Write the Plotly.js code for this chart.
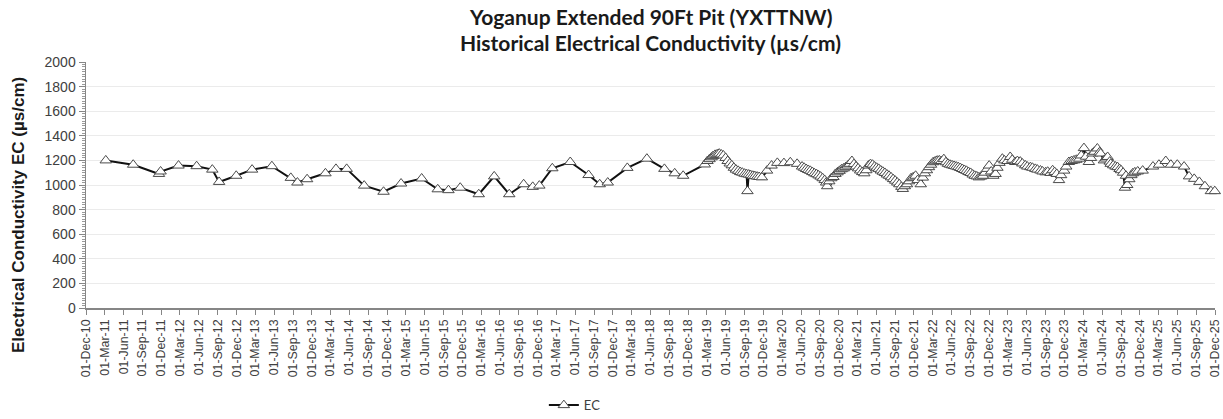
<!DOCTYPE html>
<html>
<head>
<meta charset="utf-8">
<script src="https://cdn.plot.ly/plotly-3.0.1.min.js"></script>
<style>html,body{margin:0;padding:0;background:#fff;}#chart{width:1223px;height:419px;}</style>
</head>
<body>
<div id="chart"></div>
<script>
// Sampling dates
const dates = [
'2011-03-07','2011-07-18','2011-11-20','2011-11-28','2012-02-23','2012-05-21','2012-08-05','2012-09-07','2012-11-29',
'2013-02-14','2013-05-21','2013-08-21','2013-09-22','2013-11-08','2014-02-05','2014-03-28','2014-05-19','2014-08-12',
'2014-11-14','2015-02-07','2015-05-18','2015-08-04','2015-09-25','2015-11-21','2016-02-19','2016-05-04','2016-07-16',
'2016-09-24','2016-11-07','2016-12-09','2017-02-10','2017-05-08','2017-08-05','2017-09-28','2017-11-06','2018-02-09',
'2018-05-15','2018-08-08','2018-09-27','2018-11-07','2019-02-20',
'2019-03-05','2019-03-15','2019-03-25','2019-04-01','2019-04-11','2019-04-21','2019-05-01','2019-05-11','2019-05-21',
'2019-06-01','2019-06-11','2019-06-21','2019-07-01','2019-07-11','2019-07-21','2019-08-01','2019-08-11','2019-08-21',
'2019-09-01','2019-09-11','2019-09-15','2019-09-21','2019-10-01','2019-10-11','2019-10-21','2019-11-01','2019-11-11',
'2019-11-24','2019-12-19','2020-01-10','2020-02-07','2020-03-10','2020-04-10','2020-05-13','2020-06-06',
'2020-06-16','2020-06-26','2020-07-06','2020-07-16','2020-07-26','2020-08-05','2020-08-15','2020-08-25','2020-09-04',
'2020-09-14','2020-09-24','2020-10-01','2020-10-06','2020-10-16','2020-10-26','2020-11-05','2020-11-15','2020-11-25',
'2020-12-05','2020-12-15','2020-12-25','2021-01-04','2021-01-14','2021-01-24','2021-02-03','2021-02-13','2021-02-23',
'2021-03-05','2021-03-15','2021-03-25','2021-04-04','2021-04-14','2021-04-24','2021-05-04','2021-05-14','2021-05-24',
'2021-06-03','2021-06-13','2021-06-23','2021-07-03','2021-07-13','2021-07-23','2021-08-02','2021-08-12','2021-08-22',
'2021-09-01','2021-09-11','2021-09-21','2021-10-01','2021-10-08','2021-10-18','2021-10-28','2021-11-07','2021-11-17',
'2021-11-27','2021-12-09','2021-12-19','2022-01-03','2022-01-13','2022-01-23','2022-02-02','2022-02-12','2022-02-22',
'2022-03-04','2022-03-14','2022-03-24','2022-04-03','2022-04-13','2022-04-25','2022-05-05','2022-05-15','2022-05-25',
'2022-06-04','2022-06-14','2022-06-24','2022-07-04','2022-07-14','2022-07-24','2022-08-03','2022-08-13','2022-08-23',
'2022-09-02','2022-09-12','2022-09-22','2022-10-02','2022-10-12','2022-10-22','2022-11-01','2022-11-11','2022-11-21',
'2022-12-01','2022-12-11','2022-12-21','2023-01-01','2023-01-10','2023-01-20','2023-02-03','2023-02-13','2023-02-28',
'2023-03-13','2023-03-23','2023-04-07','2023-04-17','2023-05-01','2023-05-11','2023-05-25','2023-06-04','2023-06-19',
'2023-06-29','2023-07-13','2023-07-23','2023-08-07','2023-08-17','2023-09-01','2023-09-11','2023-09-25','2023-10-05',
'2023-10-15','2023-10-25','2023-11-05','2023-11-15','2023-11-30','2023-12-10','2023-12-23','2024-01-05','2024-01-17',
'2024-01-28','2024-02-11','2024-02-21','2024-03-05','2024-03-15','2024-03-29','2024-04-08','2024-04-15','2024-04-25',
'2024-05-09','2024-05-19','2024-05-25','2024-06-10','2024-06-20','2024-06-28','2024-07-08','2024-07-13','2024-07-25',
'2024-08-05','2024-08-15','2024-08-25','2024-09-01','2024-09-11','2024-09-20','2024-09-25','2024-10-01','2024-10-11',
'2024-10-21','2024-10-28','2024-11-07','2024-11-21','2024-12-15','2025-02-03','2025-03-04','2025-04-06','2025-05-01',
'2025-06-01','2025-07-04','2025-07-28','2025-08-22','2025-09-16','2025-10-13','2025-11-11','2025-11-30'
];
// Electrical conductivity values (µs/cm)
const ecValues = [
1200,1165,1090,1110,1158,1153,1125,1025,1075,
1125,1153,1058,1020,1047,1095,1131,1131,995,
945,1012,1053,965,958,978,925,1070,925,
1006,985,995,1136,1187,1081,1006,1020,1139,
1214,1131,1095,1075,1167,
1195,1210,1225,1235,1245,1250,1255,1248,1240,
1220,1195,1175,1160,1140,1125,1115,1105,1100,
1092,1088,950,1085,1080,1075,1072,1068,1065,
1062,1117,1158,1180,1178,1185,1172,1150,
1140,1130,1122,1115,1105,1095,1088,1078,1068,
1055,1040,1020,990,1030,1055,1065,1090,1103,
1115,1128,1135,1145,1158,1172,1195,1170,1150,
1135,1118,1105,1095,1120,1158,1170,1165,1150,
1140,1131,1118,1108,1098,1085,1075,1062,1048,
1035,1020,1006,985,968,990,1006,1030,1055,
1062,1075,1040,1006,1060,1095,1120,1145,1165,
1185,1192,1198,1200,1195,1210,1185,1172,1165,
1160,1155,1150,1145,1138,1130,1122,1115,1105,
1098,1085,1075,1070,1062,1068,1075,1100,1131,
1158,1110,1075,1090,1140,1180,1214,1200,1195,
1228,1205,1187,1195,1190,1175,1160,1150,1145,
1140,1131,1125,1118,1110,1103,1108,1098,1120,
1105,1090,1040,1080,1117,1150,1187,1195,1200,
1205,1214,1240,1300,1230,1187,1220,1256,1270,
1297,1265,1256,1200,1215,1228,1190,1172,1160,
1150,1145,1130,1120,1100,978,1075,1000,1047,
1080,1095,1103,1110,1117,1150,1165,1195,1165,
1165,1150,1070,1050,1025,990,950,950
];
const seriesName = 'EC';
const yTicks = [0,200,400,600,800,1000,1200,1400,1600,1800,2000];
const titleLines = ['Yoganup Extended 90Ft Pit (YXTTNW)', 'Historical Electrical Conductivity (µs/cm)'];
const yTitle = 'Electrical Conductivity EC (µs/cm)';

const trace = {
  x: dates, y: ecValues, name: seriesName, type: 'scatter', mode: 'lines+markers',
  line: {color: '#111111', width: 2},
  marker: {symbol: 'triangle-up', size: 10, color: '#ffffff', line: {color: '#4a4a4a', width: 1}},
  cliponaxis: false
};

const titleFont = {family: 'Lato, Carlito, sans-serif', size: 21, color: '#1a1a1a'};

const layout = {
  width: 1223, height: 419,
  margin: {l: 86, r: 8, t: 62, b: 111, pad: 0},
  paper_bgcolor: '#ffffff', plot_bgcolor: '#ffffff',
  font: {family: 'Liberation Sans, Arial, sans-serif', color: '#404040'},
  xaxis: {
    type: 'date', range: ['2010-12-01', '2025-12-01'],
    tick0: '2010-12-01', dtick: 'M3', tickformat: '%d-%b-%y', tickangle: -90,
    ticks: 'outside', ticklen: 5, tickcolor: '#868686', tickwidth: 1,
    showline: true, linecolor: '#868686', linewidth: 1.5,
    showgrid: false, zeroline: false,
    tickfont: {size: 12.4, color: '#404040', family: 'Liberation Sans, Arial, sans-serif'}
  },
  yaxis: {
    range: [0, 2000], tickvals: yTicks, ticktext: yTicks.map(String),
    ticks: 'outside', ticklen: 6, tickcolor: '#868686', tickwidth: 1,
    minor: {dtick: 20, ticks: 'outside', ticklen: 3, tickcolor: '#9a9a9a', showgrid: false},
    showline: true, linecolor: '#868686', linewidth: 1.5,
    showgrid: true, gridcolor: '#ebebeb', gridwidth: 1, zeroline: false,
    tickfont: {size: 14, color: '#404040', family: 'Liberation Sans, Arial, sans-serif'}
  },
  showlegend: true,
  legend: {
    orientation: 'h', x: 0.433, xref: 'paper', xanchor: 'center',
    y: 0.033, yref: 'container', yanchor: 'middle',
    font: {family: 'Lato, Carlito, sans-serif', size: 13, color: '#404040'},
    itemwidth: 30, bgcolor: 'rgba(0,0,0,0)'
  },
  annotations: [
    {text: '<b>' + titleLines[0] + '</b>', xref: 'paper', yref: 'paper', x: 0.5, y: 1.183,
     xanchor: 'center', yanchor: 'middle', showarrow: false, font: titleFont},
    {text: '<b>' + titleLines[1] + '</b>', xref: 'paper', yref: 'paper', x: 0.5, y: 1.081,
     xanchor: 'center', yanchor: 'middle', showarrow: false, font: titleFont},
    {text: '<b>' + yTitle + '</b>', textangle: -90,
     xref: 'paper', yref: 'paper', x: -0.0602, y: 0.378, xanchor: 'center', yanchor: 'middle',
     showarrow: false, font: {family: 'Liberation Sans, Arial, sans-serif', size: 17, color: '#1a1a1a'}}
  ]
};

Plotly.newPlot('chart', [trace], layout, {displayModeBar: false, staticPlot: true});
</script>
</body>
</html>
